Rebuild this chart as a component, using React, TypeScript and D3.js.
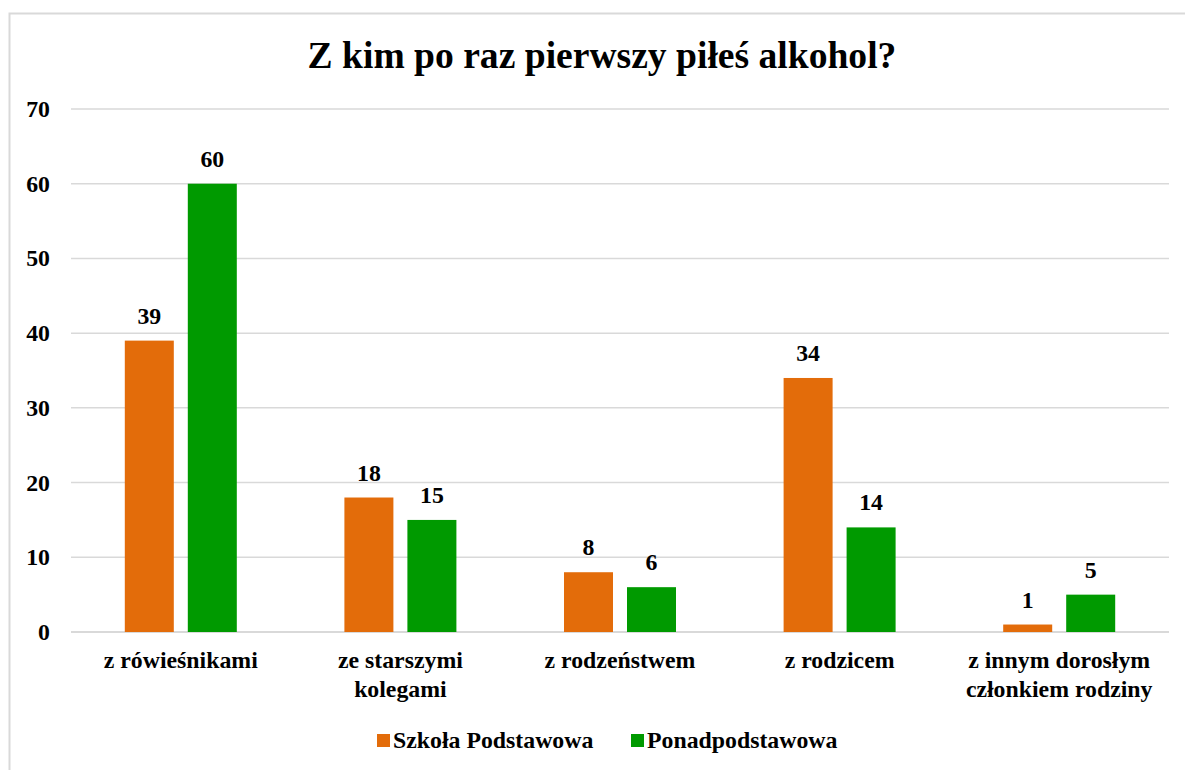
import React from "react";
import * as d3 from "d3";

const categories: string[][] = [
  ["z rówieśnikami"],
  ["ze starszymi", "kolegami"],
  ["z rodzeństwem"],
  ["z rodzicem"],
  ["z innym dorosłym", "członkiem rodziny"],
];
const seriesNames = ["Szkoła Podstawowa", "Ponadpodstawowa"];
const szkolaPodstawowa = [39, 18, 8, 34, 1];
const ponadpodstawowa = [60, 15, 6, 14, 5];
const yTicks = [0, 10, 20, 30, 40, 50, 60, 70];
const colors = ["#E36C0A", "#009A00"];

const W = 1185;
const H = 770;
const font = "'Liberation Serif', 'Times New Roman', serif";

export default function App() {
  const left = 71;
  const right = 1169;
  const top = 109;
  const bottom = 632;
  const x = d3
    .scaleBand<number>()
    .domain(d3.range(categories.length))
    .range([left, right]);
  const y = d3.scaleLinear().domain([0, 70]).range([bottom, top]);
  const barW = 49;
  const gap = 14;
  const series = [szkolaPodstawowa, ponadpodstawowa];
  const fs = 23.8;

  return (
    <svg
      width={W}
      height={H}
      style={{ position: "absolute", left: 0, top: 0, background: "#fff" }}
      fontFamily={font}
    >
      <rect x={0} y={0} width={W} height={H} fill="#fff" />
      <path d={`M9.5,${H} V13.5 H${W}`} fill="none" stroke="#D9D9D9" strokeWidth={2} />
      <text x={602} y={68} textAnchor="middle" fontSize={37.6} fontWeight="bold">
        Z kim po raz pierwszy piłeś alkohol?
      </text>
      {yTicks.map((t) => (
        <g key={t}>
          <line x1={left} x2={right} y1={y(t)} y2={y(t)} stroke="#D9D9D9" strokeWidth={t === 0 ? 2 : 1.5} />
          <text x={50} y={y(t) + 8} textAnchor="end" fontSize={fs} fontWeight="bold">
            {t}
          </text>
        </g>
      ))}
      {categories.map((cat, i) => {
        const cx = (x(i) as number) + x.bandwidth() / 2;
        return (
          <g key={i}>
            {series.map((s, j) => {
              const bx = cx + (j === 0 ? -gap / 2 - barW : gap / 2);
              return (
                <g key={j}>
                  <rect
                    x={bx}
                    y={y(s[i])}
                    width={barW}
                    height={y(0) - y(s[i])}
                    fill={colors[j]}
                  />
                  <text
                    x={bx + barW / 2}
                    y={y(s[i]) - 17}
                    textAnchor="middle"
                    fontSize={fs}
                    fontWeight="bold"
                  >
                    {s[i]}
                  </text>
                </g>
              );
            })}
            {cat.map((line, k) => (
              <text
                key={k}
                x={cx}
                y={668 + k * 29}
                textAnchor="middle"
                fontSize={fs}
                fontWeight="bold"
              >
                {line}
              </text>
            ))}
          </g>
        );
      })}
      {seriesNames.map((n, j) => {
        const lx = j === 0 ? 377 : 631;
        return (
          <g key={n}>
            <rect x={lx} y={734} width={13} height={13} fill={colors[j]} />
            <text x={lx + 16} y={748} fontSize={fs} fontWeight="bold">
              {n}
            </text>
          </g>
        );
      })}
    </svg>
  );
}
